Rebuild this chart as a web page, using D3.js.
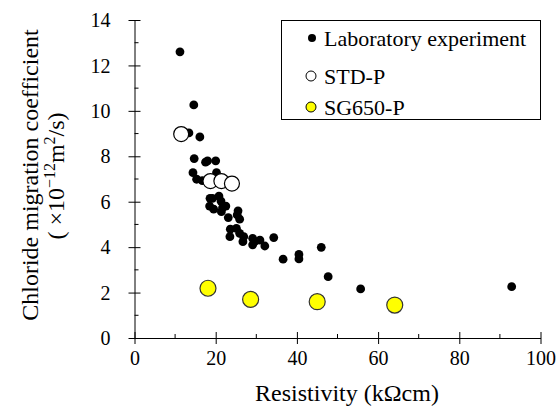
<!DOCTYPE html>
<html><head><meta charset="utf-8">
<script src="https://cdn.jsdelivr.net/npm/d3@7"></script>
<style>body{margin:0;background:#fff}svg{display:block}</style>
</head><body>
<svg id="c" width="556" height="407"></svg>
<script>
const labX=[11.2,14.6,13.4,16.1,14.7,17.5,18.0,20.0,14.4,15.3,16.7,20.2,19.2,20.8,21.3,18.5,19.5,21.7,22.5,21.4,23.1,25.5,25.3,25.9,23.6,23.5,25.9,26.9,29.1,29.6,32.1,34.3,36.6,40.5,40.5,46.0,47.7,55.7,92.9,63.5,30.9,26.7,29.1,18.6,25.1];
const labY=[12.6,10.26,9.03,8.85,7.9,7.74,7.8,7.8,7.28,6.99,6.93,7.28,6.15,6.25,6.03,5.81,5.67,5.74,5.81,5.56,5.3,5.6,5.42,5.23,4.79,4.46,4.61,4.46,4.39,4.24,4.05,4.42,3.47,3.68,3.48,3.99,2.70,2.16,2.26,1.55,4.31,4.24,4.1,6.15,4.83];
const stdX=[11.5,18.7,21.4,24.0];
const stdY=[8.98,6.91,6.91,6.8];
const sgX=[18.1,28.6,45.0,64.1];
const sgY=[2.19,1.70,1.60,1.45];
const xTicks=[0,20,40,60,80,100];
const yTicks=[0,2,4,6,8,10,12,14];
const legendLabels=["Laboratory experiment","STD-P","SG650-P"];

const FF="'Liberation Serif', 'Times New Roman', Times, serif";
const svg=d3.select("#c");
const x=d3.scaleLinear().domain([0,100]).range([134.5,540.5]);
const y=d3.scaleLinear().domain([0,14]).range([338,20]);

// minor ticks
svg.append("g").selectAll("line").data(d3.range(10,100,20)).join("line")
  .attr("x1",d=>x(d)).attr("x2",d=>x(d)).attr("y1",y(0)-4).attr("y2",y(0)).attr("stroke","#000");
svg.append("g").selectAll("line").data(d3.range(1,14,2)).join("line")
  .attr("x1",x(0)).attr("x2",x(0)+4).attr("y1",d=>y(d)).attr("y2",d=>y(d)).attr("stroke","#000");

const xa=svg.append("g").attr("transform",`translate(0,${y(0)})`)
  .call(d3.axisBottom(x).tickValues(xTicks).tickSizeInner(6).tickSizeOuter(0).tickPadding(8));
xa.selectAll(".tick line").attr("y1",-6);
xa.selectAll(".tick text").attr("dy",null).attr("y",27);
const ya=svg.append("g").attr("transform",`translate(${x(0)},0)`)
  .call(d3.axisLeft(y).tickValues(yTicks).tickSizeInner(6).tickSizeOuter(0).tickPadding(0));
ya.selectAll(".tick line").attr("x1",6);
ya.selectAll(".tick text").attr("x",-24).attr("dy","0.33em");
[xa,ya].forEach(a=>{a.attr("font-family",null).attr("font-size",null);
  a.selectAll("text").style("font-family",FF).style("font-size","20px").attr("fill","#000");
  a.select(".domain").attr("stroke","#000");a.selectAll(".tick line").attr("stroke","#000");});

// points
svg.append("g").selectAll("circle").data(labX.map((d,i)=>[d,labY[i]])).join("circle")
  .attr("cx",d=>x(d[0])).attr("cy",d=>y(d[1])).attr("r",4.4).attr("fill","#000");
svg.append("g").selectAll("circle").data(stdX.map((d,i)=>[d,stdY[i]])).join("circle")
  .attr("cx",d=>x(d[0])).attr("cy",d=>y(d[1])).attr("r",7.5).attr("fill","#fff").attr("stroke","#000").attr("stroke-width",1.2);
svg.append("g").selectAll("circle").data(sgX.map((d,i)=>[d,sgY[i]])).join("circle")
  .attr("cx",d=>x(d[0])).attr("cy",d=>y(d[1])).attr("r",8).attr("fill","#ffff00").attr("stroke","#333").attr("stroke-width",1.2);

// legend
const lg=svg.append("g");
lg.append("rect").attr("x",281.5).attr("y",20.5).attr("width",259).attr("height",99).attr("fill","#fff").attr("stroke","#000");
const rows=[38,76,107];
lg.append("circle").attr("cx",312).attr("cy",rows[0]).attr("r",4).attr("fill","#000");
lg.append("circle").attr("cx",311).attr("cy",rows[1]).attr("r",5).attr("fill","#fff").attr("stroke","#000");
lg.append("circle").attr("cx",311).attr("cy",rows[2]).attr("r",5).attr("fill","#ffff00").attr("stroke","#000");
legendLabels.forEach((t,i)=>lg.append("text").attr("x",324).attr("y",rows[i]).attr("dy","0.35em")
  .style("font-family",FF).style("font-size","22px").text(t));

// axis titles
svg.append("text").attr("x",347).attr("y",401).attr("text-anchor","middle").style("font-family",FF).style("font-size","24px").text("Resistivity (kΩcm)");
svg.append("text").attr("transform","translate(38,175) rotate(-90)").attr("text-anchor","middle").style("font-family",FF).style("font-size","24px").text("Chloride migration coefficient");
const t2=svg.append("text").attr("transform","translate(64,176) rotate(-90)").attr("text-anchor","middle").style("font-family",FF).style("font-size","24px");
t2.append("tspan").text("( ×10");
t2.append("tspan").attr("dy",-9).style("font-size","16px").text("−12");
t2.append("tspan").attr("dy",9).text("m");
t2.append("tspan").attr("dy",-9).style("font-size","16px").text("2");
t2.append("tspan").attr("dy",9).text("/s)");
</script></body></html>
